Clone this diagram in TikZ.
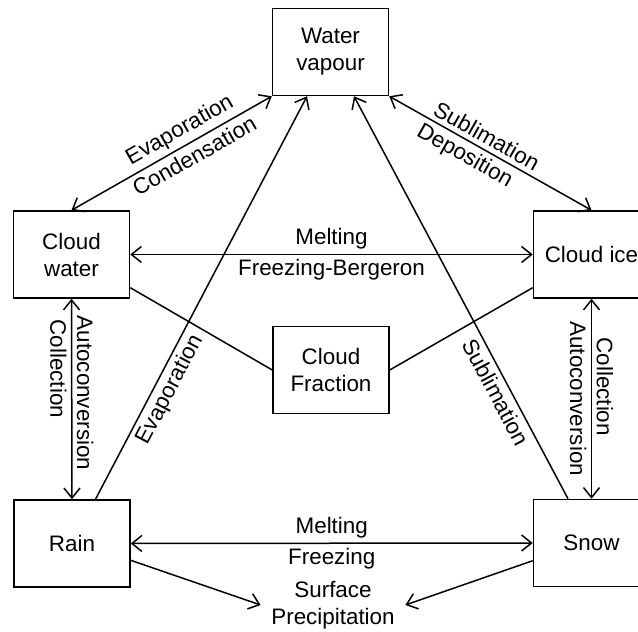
\documentclass[tikz,border=0pt]{standalone}
\usepackage{fontspec}
\setmainfont{Liberation Sans}
\usetikzlibrary{arrows.meta,calc}

\tikzset{
  caja/.style={draw, line width=0.75pt, minimum width=58pt, minimum height=43.5pt,
               align=center, inner sep=0pt},
  etiqueta/.style={inner sep=2.2pt},
  >={Straight Barb[length=5pt,width=8pt]},
}

\begin{document}
\begin{tikzpicture}[x=0.5pt, y=0.5pt, line width=0.75pt,
                    font=\fontsize{11.2}{13.5}\selectfont]

                    \useasboundingbox (0,0) rectangle (638,632);
                    \clip (0,0) rectangle (638,632);

                    % Cajas
                    \node[caja] (vapour) at (330.5,580)  {Water\\vapour};
                    \node[caja] (cwater) at (71.5,377.5) {Cloud\\water};
                    \node[caja] (cice)   at (591.5,377.5) {Cloud ice};
                    \node[caja] (cfrac)  at (331,262)    {Cloud\\Fraction};
                    \node[caja] (rain)   at (72,88.5)    {Rain};
                    \node[caja] (snow)   at (591.5,89)   {Snow};
                    \node[align=center, inner xsep=5pt] (precip) at (333,27) {Surface\\Precipitation};

                    % Flechas dobles
                    \draw[<->] (cwater.north) -- (vapour.south west)
                        node[etiqueta, pos=0.58, sloped, above] {Evaporation}
                        node[etiqueta, pos=0.58, sloped, below] {Condensation};
                    \draw[<->] (vapour.south east) -- (cice.north)
                        node[etiqueta, pos=0.45, sloped, above] {Sublimation}
                        node[etiqueta, pos=0.41, sloped, below] {Deposition};
                    \draw[<->] (cwater.east) -- (cice.west)
                        node[etiqueta, midway, above] {Melting}
                        node[etiqueta, midway, below] {Freezing-Bergeron};
                    \draw[<->] (cwater.south) -- (rain.north)
                        node[etiqueta, pos=0.35, rotate=-90, below] {Collection}
                        node[etiqueta, pos=0.47, rotate=-90, above] {Autoconversion};
                    \draw[<->] (cice.south) -- (snow.north)
                        node[etiqueta, pos=0.5, rotate=-90, below] {Autoconversion}
                        node[etiqueta, pos=0.44, rotate=-90, above] {Collection};
                    \draw[<->] (rain.east) -- (snow.west)
                        node[etiqueta, midway, above] {Melting}
                        node[etiqueta, midway, below] {Freezing};

                    % Hacia el vapor
                    \draw[->] ($(rain.north)!0.4!(rain.north east)$) -- ($(vapour.south)!0.4!(vapour.south west)$)
                        node[etiqueta, pos=0.29, sloped, below] {Evaporation};
                    \draw[<-] ($(vapour.south)!0.4!(vapour.south east)$) -- ($(snow.north)!0.4!(snow.north west)$)
                        node[etiqueta, pos=0.72, sloped, below] {Sublimation};

                    % Fraccion de nube
                    \draw ($(cwater.east)!0.75!(cwater.south east)$) -- (cfrac.west);
                    \draw ($(cice.west)!0.75!(cice.south west)$) -- (cfrac.east);

                    % Precipitacion
                    \draw[->] ($(rain.east)!0.38!(rain.south east)$) -- (precip.west);
                    \draw[->] ($(snow.west)!0.4!(snow.south west)$) -- (precip.east);

                    \end{tikzpicture}
\end{document}
